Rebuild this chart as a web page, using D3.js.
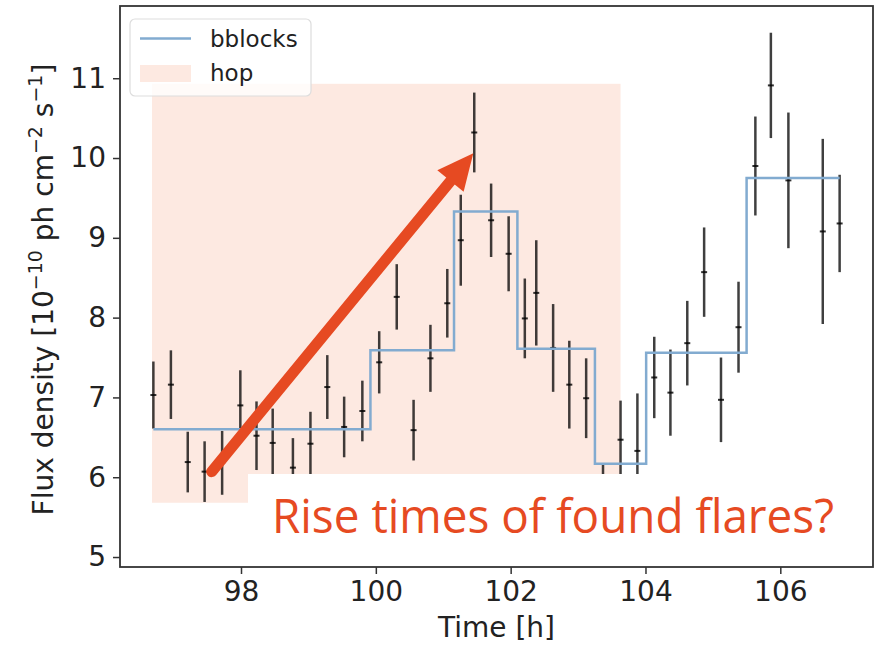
<html>
<head>
<script src="https://d3js.org/d3.v7.min.js"></script>
<style>
body { margin: 0; background: #fff; }
text { font-family: 'DejaVu Sans', sans-serif; fill: #222; }
</style>
</head>
<body>
<div id="plot"></div>
<script>

// light curve: time [h], flux, 1-sigma error
var times = [96.70, 96.96, 97.21, 97.46, 97.72, 97.99, 98.23, 98.47, 98.77, 99.03,
  99.28, 99.53, 99.80, 100.05, 100.31, 100.56, 100.81, 101.06, 101.26, 101.46,
  101.71, 101.97, 102.21, 102.38, 102.63, 102.87, 103.12, 103.37, 103.63, 103.88,
  104.13, 104.37, 104.62, 104.87, 105.12, 105.38, 105.63, 105.86, 106.12, 106.63, 106.88];
var fluxes = [7.03, 7.16, 6.19, 6.07, 6.18, 6.90, 6.52, 6.43, 6.12, 6.42,
  7.13, 6.63, 6.83, 7.44, 8.26, 6.59, 7.49, 8.18, 8.97, 10.32,
  9.22, 8.80, 7.99, 8.31, 7.62, 7.16, 6.99, 5.71, 6.47, 6.33,
  7.25, 7.06, 7.68, 8.57, 6.97, 7.88, 9.90, 10.91, 9.72, 9.08, 9.18];
var errors = [0.42, 0.43, 0.38, 0.38, 0.40, 0.44, 0.43, 0.43, 0.37, 0.40,
  0.40, 0.38, 0.38, 0.39, 0.41, 0.38, 0.42, 0.43, 0.57, 0.50,
  0.46, 0.47, 0.50, 0.66, 0.55, 0.55, 0.50, 0.45, 0.49, 0.72,
  0.51, 0.54, 0.53, 0.56, 0.53, 0.57, 0.62, 0.66, 0.85, 1.16, 0.61];

// bayesian blocks
var bbEdges = [96.70, 99.92, 101.16, 102.10, 103.25, 104.01, 105.50, 106.88];
var bbLevels = [6.60, 7.59, 9.33, 7.61, 6.17, 7.56, 9.75];

// hop region
var hopX = [96.68, 103.63];
var hopY = [5.68, 10.93];

var xTicks = [98, 100, 102, 104, 106];
var yTicks = [5, 6, 7, 8, 9, 10, 11];

// annotation arrow, in data coords: [start, tip]
var arrowPts = [[97.565, 6.07], [101.446, 10.06]];

var width = 888, height = 645;
var axLeft = 120, axRight = 873, axTop = 6, axBottom = 567;

var svg = d3.select("#plot").append("svg")
  .attr("width", width).attr("height", height);

var x = d3.scaleLinear().domain([96.205, 107.375]).range([axLeft, axRight]);
var y = d3.scaleLinear().domain([4.875, 11.905]).range([axBottom, axTop]);

var blue = "#82abd0", hopColor = "#fde9e1", red = "#e64a22";

// hop rectangle
svg.append("rect")
  .attr("x", x(hopX[0])).attr("y", y(hopY[1]))
  .attr("width", x(hopX[1]) - x(hopX[0]))
  .attr("height", y(hopY[0]) - y(hopY[1]))
  .style("fill", hopColor);

// error bars
var pts = times.map(function (t, i) { return { t: t, f: fluxes[i], e: errors[i] }; });

svg.selectAll("line.err").data(pts).enter().append("line")
  .attr("class", "err")
  .attr("x1", function (d) { return x(d.t); })
  .attr("x2", function (d) { return x(d.t); })
  .attr("y1", function (d) { return y(d.f - d.e); })
  .attr("y2", function (d) { return y(d.f + d.e); })
  .style("stroke", "#000").style("stroke-width", 2.5).style("opacity", 0.75);

svg.selectAll("line.mk").data(pts).enter().append("line")
  .attr("class", "mk")
  .attr("x1", function (d) { return x(d.t) - 3; })
  .attr("x2", function (d) { return x(d.t) + 3; })
  .attr("y1", function (d) { return y(d.f); })
  .attr("y2", function (d) { return y(d.f); })
  .style("stroke", "#000").style("stroke-width", 2).style("opacity", 0.8);

// step line
var steps = bbLevels.map(function (v, i) { return [bbEdges[i], v]; });
steps.push([bbEdges[bbEdges.length - 1], bbLevels[bbLevels.length - 1]]);
var stepLine = d3.line()
  .x(function (d) { return x(d[0]); })
  .y(function (d) { return y(d[1]); })
  .curve(d3.curveStepAfter);
svg.append("path").attr("d", stepLine(steps))
  .style("fill", "none").style("stroke", blue).style("stroke-width", 2.5);

// frame
svg.append("rect")
  .attr("x", axLeft).attr("y", axTop)
  .attr("width", axRight - axLeft).attr("height", axBottom - axTop)
  .style("fill", "none").style("stroke", "#333").style("stroke-width", 1.8);

// axes
var xAxis = svg.append("g").attr("transform", "translate(0," + axBottom + ")")
  .call(d3.axisBottom(x).tickValues(xTicks).tickSize(7).tickPadding(7).tickFormat(d3.format("d")));
var yAxis = svg.append("g").attr("transform", "translate(" + axLeft + ",0)")
  .call(d3.axisLeft(y).tickValues(yTicks).tickSize(7).tickPadding(7).tickFormat(d3.format("d")));
[xAxis, yAxis].forEach(function (g) {
  g.select(".domain").remove();
  g.selectAll(".tick line").style("stroke", "#333").style("stroke-width", 1.5);
  g.selectAll(".tick text").style("font-size", "28px").style("font-family", "'DejaVu Sans', sans-serif").style("fill", "#222");
});

svg.append("text")
  .attr("x", (axLeft + axRight) / 2).attr("y", 637)
  .attr("text-anchor", "middle")
  .style("font-size", "28px")
  .text("Time [h]");

var yl = svg.append("text")
  .attr("transform", "translate(53," + ((axTop + axBottom) / 2 + 3) + ") rotate(-90)")
  .attr("text-anchor", "middle")
  .style("font-size", "28px");
yl.append("tspan").text("Flux density [10");
yl.append("tspan").attr("dy", -11).style("font-size", "19px").text("\u221210");
yl.append("tspan").attr("dy", 11).text(" ph cm");
yl.append("tspan").attr("dy", -11).style("font-size", "19px").text("\u22122");
yl.append("tspan").attr("dy", 11).text(" s");
yl.append("tspan").attr("dy", -11).style("font-size", "19px").text("\u22121");
yl.append("tspan").attr("dy", 11).text("]");

// legend
var lg = svg.append("g");
lg.append("rect").attr("x", 130).attr("y", 19).attr("width", 181).attr("height", 77)
  .attr("rx", 5).style("fill", "#fff").style("fill-opacity", 0.8)
  .style("stroke", "#ddd").style("stroke-width", 1.2);
lg.append("line").attr("x1", 140).attr("x2", 191).attr("y1", 38.5).attr("y2", 38.5)
  .style("stroke", blue).style("stroke-width", 2.5);
lg.append("rect").attr("x", 140).attr("y", 65).attr("width", 51).attr("height", 17)
  .style("fill", hopColor);
lg.append("text").attr("x", 210).attr("y", 47).style("font-size", "23px").text("bblocks");
lg.append("text").attr("x", 210).attr("y", 81).style("font-size", "23px").text("hop");

// annotation
svg.append("rect").attr("x", 248).attr("y", 474).attr("width", 618).attr("height", 84)
  .style("fill", "#fff");

var p0 = [x(arrowPts[0][0]), y(arrowPts[0][1])];
var p1 = [x(arrowPts[1][0]), y(arrowPts[1][1])];
var dx = p1[0] - p0[0], dy = p1[1] - p0[1];
var len = Math.sqrt(dx * dx + dy * dy);
var ux = dx / len, uy = dy / len;
var headLen = 36, headW = 17;
var base = [p1[0] - ux * headLen, p1[1] - uy * headLen];
svg.append("line")
  .attr("x1", p0[0]).attr("y1", p0[1])
  .attr("x2", base[0] + ux * 4).attr("y2", base[1] + uy * 4)
  .style("stroke", red).style("stroke-width", 11).style("stroke-linecap", "round");
svg.append("path")
  .attr("d", "M" + p1[0] + "," + p1[1] +
    "L" + (base[0] - uy * headW) + "," + (base[1] + ux * headW) +
    "L" + (base[0] + uy * headW) + "," + (base[1] - ux * headW) + "Z")
  .style("fill", red);

svg.append("text")
  .attr("x", 272).attr("y", 533)
  .attr("textLength", 562).attr("lengthAdjust", "spacingAndGlyphs")
  .style("font-family", "'Open Sans', 'Noto Sans', sans-serif")
  .style("font-size", "48px")
  .style("fill", red)
  .text("Rise times of found flares?");

</script>
</body>
</html>
